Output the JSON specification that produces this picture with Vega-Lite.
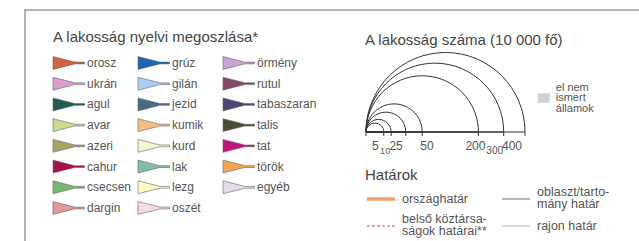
{
  "$schema": "https://vega.github.io/schema/vega-lite/v6.json",
  "width": 639,
  "height": 241,
  "autosize": {"type": "fit", "contains": "padding"},
  "padding": {"left": 25, "top": 10, "right": -3, "bottom": -3},
  "background": "white",
  "config": {"view": {"stroke": "#9a9a9a", "strokeWidth": 1.5}, "text": {"font": "Liberation Sans"}},
  "datasets": {
    "langs": [
      {"lang": "orosz", "n": 0}, {"lang": "ukrán", "n": 1}, {"lang": "agul", "n": 2}, {"lang": "avar", "n": 3},
      {"lang": "azeri", "n": 4}, {"lang": "cahur", "n": 5}, {"lang": "csecsen", "n": 6}, {"lang": "dargin", "n": 7},
      {"lang": "grúz", "n": 8}, {"lang": "gilán", "n": 9}, {"lang": "jezid", "n": 10}, {"lang": "kumik", "n": 11},
      {"lang": "kurd", "n": 12}, {"lang": "lak", "n": 13}, {"lang": "lezg", "n": 14}, {"lang": "oszét", "n": 15},
      {"lang": "örmény", "n": 16}, {"lang": "rutul", "n": 17}, {"lang": "tabaszaran", "n": 18}, {"lang": "talis", "n": 19},
      {"lang": "tat", "n": 20}, {"lang": "török", "n": 21}, {"lang": "egyéb", "n": 22}
    ],
    "pops": [{"pop": 5}, {"pop": 10}, {"pop": 25}, {"pop": 50}, {"pop": 200}, {"pop": 300}, {"pop": 400}],
    "borders": [
      {"n": 0, "label": "országhatár"},
      {"n": 1, "label": ["belső köztársa-", "ságok határai**"]},
      {"n": 2, "label": ["oblaszt/tarto-", "mány határ"]},
      {"n": 3, "label": "rajon határ"}
    ]
  },
  "layer": [
    {
      "layer": [
        {
          "data": {"name": "langs"},
          "transform": [{"calculate": "floor(datum.n/8)", "as": "col"}, {"calculate": "datum.n%8", "as": "row"}],
          "mark": {"type": "point", "shape": "M0,-0.43L1.45,-0.06L2.1,-0.06L2.1,0.06L1.45,0.06L0,0.43Z", "size": 900, "filled": true, "opacity": 1, "stroke": "#666", "strokeWidth": 0.6},
          "encoding": {
            "x": {"field": "col", "type": "quantitative", "scale": {"domain": [0, 2], "range": [28, 198], "nice": false, "zero": false}, "axis": null},
            "y": {"field": "row", "type": "quantitative", "scale": {"domain": [0, 7], "range": [53, 198], "nice": false, "zero": false}, "axis": null},
            "color": {"field": "lang", "type": "nominal", "legend": null, "scale": {
              "domain": ["orosz", "ukrán", "agul", "avar", "azeri", "cahur", "csecsen", "dargin", "grúz", "gilán", "jezid", "kumik", "kurd", "lak", "lezg", "oszét", "örmény", "rutul", "tabaszaran", "talis", "tat", "török", "egyéb"],
              "range": ["#d4623c", "#dc9ccc", "#1e5e55", "#c8dc8c", "#a8a464", "#a8104c", "#74b874", "#e4989a", "#1e64b4", "#a8d0f4", "#4c6a84", "#f4bc80", "#f4f4d0", "#84bca4", "#fcfcc8", "#f4dce4", "#c8a4dc", "#844868", "#504478", "#4c4c34", "#c4107c", "#f4a450", "#e4dcec"]}}
          }
        },
        {
          "data": {"name": "langs"},
          "transform": [{"calculate": "floor(datum.n/8)", "as": "col"}, {"calculate": "datum.n%8", "as": "row"}],
          "mark": {"type": "text", "align": "left", "baseline": "middle", "dx": 34, "fontSize": 12, "color": "#555"},
          "encoding": {
            "x": {"field": "col", "type": "quantitative", "scale": {"domain": [0, 2], "range": [28, 198], "nice": false, "zero": false}, "axis": null},
            "y": {"field": "row", "type": "quantitative", "scale": {"domain": [0, 7], "range": [53, 198], "nice": false, "zero": false}, "axis": null},
            "text": {"field": "lang"}
          }
        },
        {
          "data": {"values": [{"t": "A lakosság nyelvi megoszlása*"}]},
          "mark": {"type": "text", "align": "left", "baseline": "middle", "fontSize": 15, "color": "#444"},
          "encoding": {
            "x": {"datum": 0},
            "y": {"datum": -1.25},
            "text": {"field": "t"}
          }
        }
      ]
    },
    {
      "layer": [
        {
          "data": {"name": "pops"},
          "mark": {"type": "point", "shape": "M0,0A1,1,0,0,1,2,0Z", "filled": false, "opacity": 1, "stroke": "#333", "strokeWidth": 1},
          "encoding": {
            "x": {"datum": 0, "scale": {"type": "sqrt", "domain": [0, 400], "range": [341, 500], "nice": false, "zero": false}, "axis": null},
            "y": {"datum": 0, "scale": {"domain": [0, 1], "range": [122, 22], "nice": false, "zero": false}, "axis": null},
            "size": {"field": "pop", "type": "quantitative", "legend": null, "scale": {"type": "linear", "domain": [0, 400], "range": [0, 25281], "nice": false, "zero": true}}
          }
        },
        {
          "data": {"name": "pops"},
          "mark": {"type": "rule", "color": "#333", "strokeWidth": 1},
          "encoding": {
            "x": {"field": "pop", "type": "quantitative"},
            "y": {"datum": 0},
            "y2": {"datum": -0.04}
          }
        },
        {
          "data": {"values": [{}]},
          "mark": {"type": "rule", "color": "#333", "strokeWidth": 1},
          "encoding": {
            "x": {"datum": 0},
            "y": {"datum": 0},
            "y2": {"datum": -0.04}
          }
        },
        {
          "data": {"name": "pops"},
          "transform": [{"filter": {"field": "pop", "oneOf": [5]}}],
          "mark": {"type": "text", "align": "right", "baseline": "middle", "dx": -5, "fontSize": 12, "color": "#555"},
          "encoding": {
            "x": {"field": "pop", "type": "quantitative"},
            "y": {"datum": -0.135},
            "text": {"field": "pop", "type": "quantitative"}
          }
        },
        {
          "data": {"name": "pops"},
          "transform": [{"filter": {"field": "pop", "oneOf": [25, 400]}}],
          "mark": {"type": "text", "align": "right", "baseline": "middle", "dx": -3, "fontSize": 12, "color": "#555"},
          "encoding": {
            "x": {"field": "pop", "type": "quantitative"},
            "y": {"datum": -0.135},
            "text": {"field": "pop", "type": "quantitative"}
          }
        },
        {
          "data": {"name": "pops"},
          "transform": [{"filter": {"field": "pop", "oneOf": [10]}}],
          "mark": {"type": "text", "align": "right", "baseline": "middle", "dx": -1, "fontSize": 9, "color": "#555"},
          "encoding": {
            "x": {"field": "pop", "type": "quantitative"},
            "y": {"datum": -0.185},
            "text": {"field": "pop", "type": "quantitative"}
          }
        },
        {
          "data": {"name": "pops"},
          "transform": [{"filter": {"field": "pop", "oneOf": [200]}}],
          "mark": {"type": "text", "align": "center", "baseline": "middle", "dx": -3, "fontSize": 12, "color": "#555"},
          "encoding": {
            "x": {"field": "pop", "type": "quantitative"},
            "y": {"datum": -0.135},
            "text": {"field": "pop", "type": "quantitative"}
          }
        },
        {
          "data": {"name": "pops"},
          "transform": [{"filter": {"field": "pop", "oneOf": [300]}}],
          "mark": {"type": "text", "align": "center", "baseline": "middle", "dx": -9, "fontSize": 10, "color": "#555"},
          "encoding": {
            "x": {"field": "pop", "type": "quantitative"},
            "y": {"datum": -0.19},
            "text": {"field": "pop", "type": "quantitative"}
          }
        },
        {
          "data": {"name": "pops"},
          "transform": [{"filter": {"field": "pop", "oneOf": [50]}}],
          "mark": {"type": "text", "align": "left", "baseline": "middle", "dx": -2, "fontSize": 12, "color": "#555"},
          "encoding": {
            "x": {"field": "pop", "type": "quantitative"},
            "y": {"datum": -0.135},
            "text": {"field": "pop", "type": "quantitative"}
          }
        },
        {
          "data": {"values": [{"t": "A lakosság száma (10 000 fő)"}]},
          "mark": {"type": "text", "align": "left", "baseline": "middle", "dx": -1, "fontSize": 15, "color": "#444"},
          "encoding": {
            "x": {"datum": 0},
            "y": {"datum": 0.92},
            "text": {"field": "t"}
          }
        },
        {
          "data": {"values": [{"t": "el nem ismert államok"}]},
          "mark": {"type": "point", "shape": "M-1,-0.8L1,-0.8L1,0.8L-1,0.8Z", "size": 144, "filled": true, "opacity": 1, "color": "#d2d2d2"},
          "encoding": {
            "x": {"datum": 500},
            "y": {"datum": 0.34}
          }
        },
        {
          "data": {"values": [{"t": ["el nem", "ismert", "államok"]}]},
          "mark": {"type": "text", "align": "left", "baseline": "middle", "dx": 12, "dy": -10.5, "fontSize": 11, "lineHeight": 10.5, "color": "#555"},
          "encoding": {
            "x": {"datum": 500},
            "y": {"datum": 0.34},
            "text": {"field": "t"}
          }
        }
      ]
    },
    {
      "layer": [
        {
          "data": {"name": "borders"},
          "transform": [{"calculate": "floor(datum.n/2)", "as": "col"}, {"calculate": "datum.n%2", "as": "row"}, {"filter": "datum.n == 0"}],
          "mark": {"type": "point", "shape": "M0,0L2,0", "size": 784, "filled": false, "opacity": 1, "stroke": "#f0a070", "strokeWidth": 3.5},
          "encoding": {
            "x": {"field": "col", "type": "quantitative", "scale": {"domain": [0, 1], "range": [342, 477], "nice": false, "zero": false}, "axis": null},
            "y": {"field": "row", "type": "quantitative", "scale": {"domain": [0, 1], "range": [189, 216], "nice": false, "zero": false}, "axis": null}
          }
        },
        {
          "data": {"name": "borders"},
          "transform": [{"calculate": "floor(datum.n/2)", "as": "col"}, {"calculate": "datum.n%2", "as": "row"}, {"filter": "datum.n == 1"}],
          "mark": {"type": "point", "shape": "M0,0L2,0", "size": 784, "filled": false, "opacity": 1, "stroke": "#d24a4a", "strokeWidth": 1, "strokeDash": [3, 2]},
          "encoding": {
            "x": {"field": "col", "type": "quantitative"},
            "y": {"field": "row", "type": "quantitative"}
          }
        },
        {
          "data": {"name": "borders"},
          "transform": [{"calculate": "floor(datum.n/2)", "as": "col"}, {"calculate": "datum.n%2", "as": "row"}, {"filter": "datum.n == 2"}],
          "mark": {"type": "point", "shape": "M0,0L2,0", "size": 784, "filled": false, "opacity": 1, "stroke": "#888", "strokeWidth": 1.2},
          "encoding": {
            "x": {"field": "col", "type": "quantitative"},
            "y": {"field": "row", "type": "quantitative"}
          }
        },
        {
          "data": {"name": "borders"},
          "transform": [{"calculate": "floor(datum.n/2)", "as": "col"}, {"calculate": "datum.n%2", "as": "row"}, {"filter": "datum.n == 3"}],
          "mark": {"type": "point", "shape": "M0,0L2,0", "size": 784, "filled": false, "opacity": 1, "stroke": "#b4b4b4", "strokeWidth": 1},
          "encoding": {
            "x": {"field": "col", "type": "quantitative"},
            "y": {"field": "row", "type": "quantitative"}
          }
        },
        {
          "data": {"name": "borders"},
          "transform": [{"calculate": "floor(datum.n/2)", "as": "col"}, {"calculate": "datum.n%2", "as": "row"}, {"filter": "datum.n == 0 || datum.n == 3"}],
          "mark": {"type": "text", "align": "left", "baseline": "middle", "dx": 35, "fontSize": 12.5, "color": "#555"},
          "encoding": {
            "x": {"field": "col", "type": "quantitative"},
            "y": {"field": "row", "type": "quantitative"},
            "text": {"field": "label"}
          }
        },
        {
          "data": {"name": "borders"},
          "transform": [{"calculate": "floor(datum.n/2)", "as": "col"}, {"calculate": "datum.n%2", "as": "row"}, {"filter": "datum.n == 1 || datum.n == 2"}],
          "mark": {"type": "text", "align": "left", "baseline": "middle", "dx": 35, "dy": -7.5, "fontSize": 12.5, "lineHeight": 12.5, "color": "#555"},
          "encoding": {
            "x": {"field": "col", "type": "quantitative"},
            "y": {"field": "row", "type": "quantitative"},
            "text": {"field": "label"}
          }
        },
        {
          "data": {"values": [{"t": "Határok"}]},
          "mark": {"type": "text", "align": "left", "baseline": "middle", "dx": -2, "fontSize": 15, "color": "#444"},
          "encoding": {
            "x": {"datum": 0},
            "y": {"datum": -0.89},
            "text": {"field": "t"}
          }
        }
      ]
    }
  ],
  "resolve": {"scale": {"x": "independent", "y": "independent", "color": "independent", "size": "independent"}}
}
